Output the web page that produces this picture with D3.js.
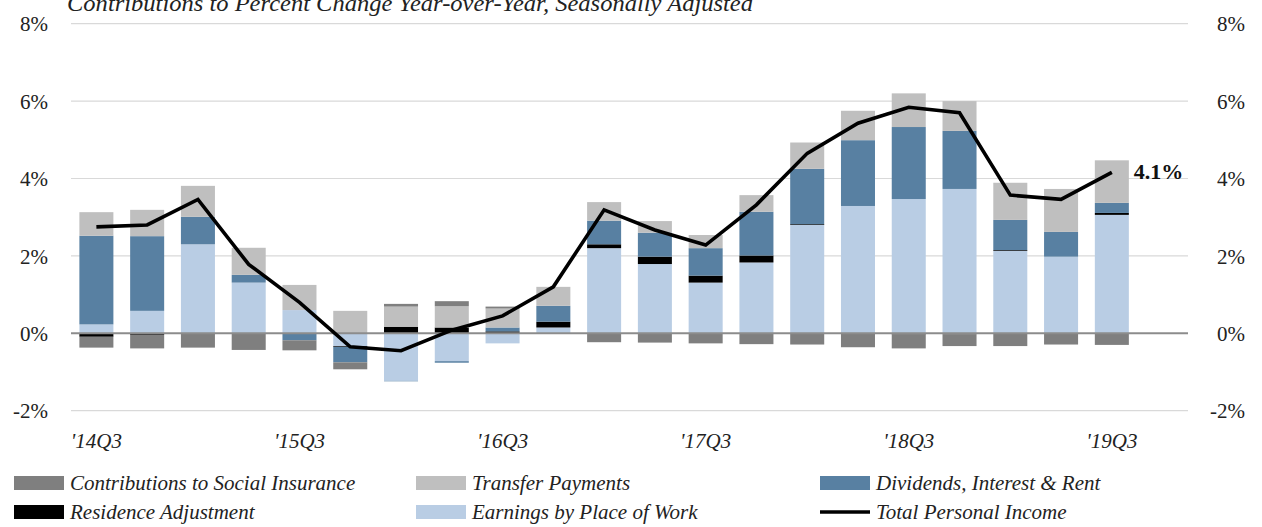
<!DOCTYPE html>
<html><head><meta charset="utf-8">
<script src="https://cdn.jsdelivr.net/npm/d3@7"></script>
<style>
html,body{margin:0;padding:0;background:#fff;}
svg{display:block;font-family:"Liberation Serif","DejaVu Serif",serif;}
</style></head>
<body><svg id="c" width="1262" height="527"></svg>
<script>
const quarters = ["'14Q3","'14Q4","'15Q1","'15Q2","'15Q3","'15Q4","'16Q1","'16Q2","'16Q3","'16Q4","'17Q1","'17Q2","'17Q3","'17Q4","'18Q1","'18Q2","'18Q3","'18Q4","'19Q1","'19Q2","'19Q3"];
const earnings      = [0.23,0.58,2.30,1.31,0.60,-0.33,-1.23,-0.72,-0.26,0.15,2.20,1.79,1.31,1.83,2.80,3.29,3.47,3.73,2.13,1.98,3.06];
const residence     = [-0.09,-0.04,-0.01,0.00,0.00,-0.02,0.17,0.15,0.05,0.15,0.10,0.19,0.18,0.18,0.02,0.00,-0.03,-0.02,0.02,0.00,0.05];
const dividends     = [2.29,1.93,0.71,0.20,-0.18,-0.40,-0.01,-0.04,0.10,0.41,0.61,0.62,0.71,1.13,1.43,1.70,1.86,1.50,0.78,0.64,0.26];
const transfers     = [0.61,0.68,0.80,0.70,0.65,0.58,0.52,0.55,0.49,0.49,0.48,0.30,0.34,0.43,0.68,0.76,0.87,0.77,0.96,1.11,1.10];
const contributions = [-0.28,-0.35,-0.36,-0.43,-0.26,-0.18,0.07,0.13,0.05,0.00,-0.23,-0.24,-0.26,-0.28,-0.29,-0.36,-0.36,-0.31,-0.33,-0.29,-0.30];
const totalIncome   = [2.75,2.80,3.46,1.78,0.80,-0.35,-0.45,0.08,0.45,1.20,3.19,2.67,2.28,3.32,4.65,5.43,5.84,5.70,3.57,3.46,4.16];
const yTicks = [-2,0,2,4,6,8];
const xTickLabels = ["'14Q3","'15Q3","'16Q3","'17Q3","'18Q3","'19Q3"];
const lastLabel = "4.1%";
const title = "Contributions to Percent Change Year-over-Year, Seasonally Adjusted";

const seriesNames = {
  earnings:"Earnings by Place of Work", residence:"Residence Adjustment",
  dividends:"Dividends, Interest & Rent", transfers:"Transfer Payments",
  contributions:"Contributions to Social Insurance", total:"Total Personal Income"
};
const colors = {earnings:"#b9cde4", residence:"#000000", dividends:"#5880a2", transfers:"#bfbfbf", contributions:"#7f7f7f"};

const rows = quarters.map((q,i)=>({q, earnings:earnings[i], residence:residence[i], dividends:dividends[i], transfers:transfers[i], contributions:contributions[i], total:totalIncome[i]}));
const keys = ["earnings","residence","dividends","transfers","contributions"];

const svg = d3.select("#c");
const L = 71, R = 1188, T = 23.7, B = 410.7;
const x = d3.scaleBand().domain([...quarters, "pad"]).range([L, R]).paddingInner(0.33).paddingOuter(0.165);
const y = d3.scaleLinear().domain([-2, 8]).range([B, T]);

// gridlines
svg.append("g").selectAll("line").data(yTicks.filter(t=>t!==0)).join("line")
  .attr("x1", L).attr("x2", R).attr("y1", d=>y(d)).attr("y2", d=>y(d))
  .attr("stroke", "#d9d9d9").attr("stroke-width", 1.2);

// y axes
const fmt = d=>d+"%";
const yl = svg.append("g").attr("transform", `translate(${L-23},0)`)
  .call(d3.axisLeft(y).tickValues(yTicks).tickFormat(fmt).tickSize(0).tickPadding(0));
const yr = svg.append("g").attr("transform", `translate(1245,0)`)
  .call(d3.axisLeft(y).tickValues(yTicks).tickFormat(fmt).tickSize(0).tickPadding(0));
[yl, yr].forEach(g=>{
  g.select(".domain").remove();
  g.selectAll("text").attr("font-size", 21).attr("fill", "#222").attr("font-family", "Liberation Serif, serif").attr("dy","0.34em");
});

// stacked bars
const stack = d3.stack().keys(keys).offset(d3.stackOffsetDiverging)(rows);
svg.append("g").selectAll("g").data(stack).join("g")
  .attr("fill", d=>colors[d.key])
  .selectAll("rect").data(d=>d).join("rect")
  .attr("x", d=>x(d.data.q)).attr("width", x.bandwidth())
  .attr("y", d=>y(Math.max(d[0],d[1])))
  .attr("height", d=>Math.abs(y(d[0])-y(d[1])));

// zero line
svg.append("line").attr("x1", L).attr("x2", R).attr("y1", y(0)).attr("y2", y(0))
  .attr("stroke", "#8c8c8c").attr("stroke-width", 2);

// x axis labels
const xa = svg.append("g").attr("transform", `translate(0,${B+22})`)
  .call(d3.axisBottom(x).tickValues(xTickLabels).tickSize(0).tickPadding(0));
xa.select(".domain").remove();
xa.selectAll("text").attr("font-size", 21).attr("font-style","italic").attr("fill","#222").attr("font-family","Liberation Serif, serif").attr("dy","0.71em");

// total line
const line = d3.line().x(d=>x(d.q)+x.bandwidth()/2).y(d=>y(d.total));
svg.append("path").datum(rows).attr("d", line).attr("fill","none")
  .attr("stroke","#000").attr("stroke-width",3.6).attr("stroke-linejoin","miter");

// last value label
const lastRow = rows[rows.length-1];
svg.append("text").attr("x", x(lastRow.q)+x.bandwidth()+5).attr("y", y(lastRow.total)+7)
  .attr("font-size", 22).attr("font-weight","bold").attr("fill","#111").text(lastLabel);

// title
svg.append("text").attr("x", 67).attr("y", 11).attr("font-size", 23).attr("font-style","italic")
  .attr("fill","#222").attr("textLength", 686).attr("lengthAdjust","spacingAndGlyphs").text(title);

// legend
const legendItems = [
  {k:"contributions", col:0, row:0}, {k:"transfers", col:1, row:0}, {k:"dividends", col:2, row:0},
  {k:"residence", col:0, row:1}, {k:"earnings", col:1, row:1}, {k:"total", col:2, row:1}
];
const colX = [14, 416, 820], rowY = [483, 512];
const lg = svg.append("g").selectAll("g").data(legendItems).join("g")
  .attr("transform", d=>`translate(${colX[d.col]},${rowY[d.row]})`);
lg.each(function(d){
  const g = d3.select(this);
  if (d.k === "total") {
    g.append("line").attr("x1",0).attr("x2",50).attr("y1",0).attr("y2",0).attr("stroke","#000").attr("stroke-width",3.6);
  } else {
    g.append("rect").attr("x",0).attr("y",-7).attr("width",50).attr("height",14).attr("fill",colors[d.k]);
  }
  g.append("text").attr("x",56).attr("y",0).attr("dy","0.34em").attr("font-size",21).attr("font-style","italic")
    .attr("fill","#222").text(seriesNames[d.k]);
});
</script></body></html>
